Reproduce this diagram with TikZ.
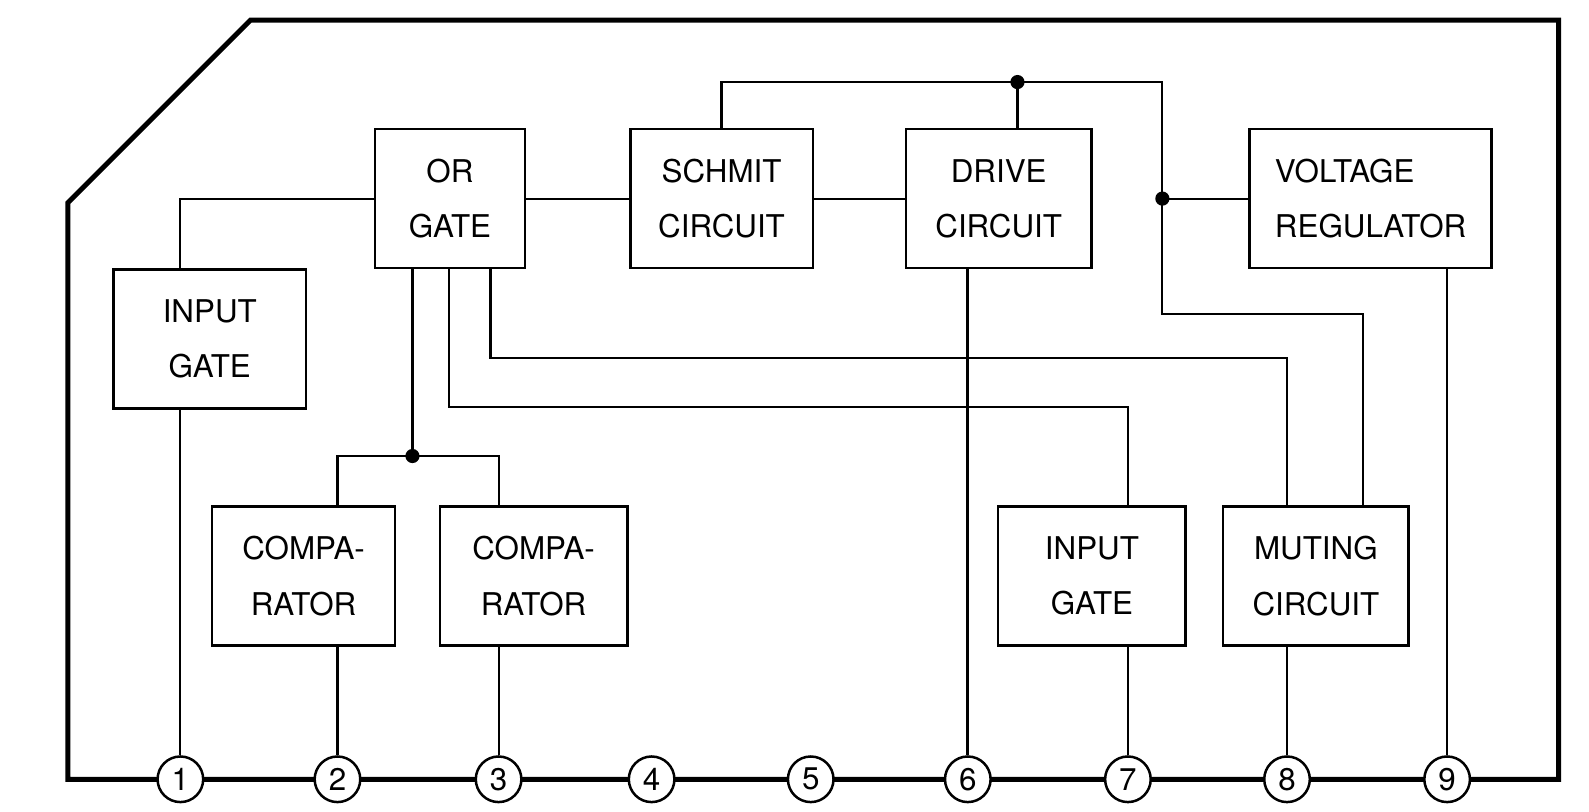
\documentclass[tikz,border=0pt]{standalone}
\usepackage{fontspec}
\setmainfont{TeX Gyre Heros}
\usetikzlibrary{positioning,calc}

\begin{document}
\begin{tikzpicture}[
    block/.style={draw, line width=0.7pt, minimum height=1.37cm, align=center, font=\fontsize{8.8}{15.5}\selectfont},
    pincirc/.style={draw, circle, fill=white, line width=0.7pt, minimum size=0.45cm, inner sep=0pt, font=\fontsize{8.8}{10}\selectfont},
    junction/.style={circle, fill=black, inner sep=0pt, minimum size=0.14cm},
    wire/.style={line width=0.6pt}
]
    \useasboundingbox (0,0) rectangle (15.68,8.01);

    % Package outline
    \draw[line width=1.4pt] (0.67,6.01) -- (2.47,7.81) -- (15.38,7.81) -- (15.38,0.32) -- (0.67,0.32) -- cycle;

    % Pins
    \foreach \n/\x in {1/1.78,2/3.33,3/4.92,4/6.43,5/8.00,6/9.55,7/11.13,8/12.70,9/14.28}
        \node[pincirc] (pin\n) at (\x,0.32) {\n};

    % Upper row
    \node[block, minimum width=1.48cm] (orgate) at (4.44,6.05) {OR\\GATE};
    \node[block, minimum width=1.80cm] (schmit) at (7.12,6.05) {SCHMIT\\CIRCUIT};
    \node[block, minimum width=1.83cm] (drive) at (9.855,6.05) {DRIVE\\CIRCUIT};
    \node[block, minimum width=2.39cm, align=left] (volreg) at (13.525,6.05) {VOLTAGE\\REGULATOR};
    \node[block, minimum width=1.90cm] (ingateA) at (2.07,4.665) {INPUT\\GATE};

    % Lower row
    \node[block, minimum width=1.81cm] (compA) at (2.995,2.325) {COMPA-\\RATOR};
    \node[block, minimum width=1.85cm] (compB) at (5.265,2.325) {COMPA-\\RATOR};
    \node[block, minimum width=1.85cm] (ingateB) at (10.775,2.325) {INPUT\\GATE};
    \node[block, minimum width=1.83cm] (muting) at (12.985,2.325) {MUTING\\CIRCUIT};

    % Junctions and corners
    \node[junction] (tj) at (10.04,7.20) {};
    \node[junction] (rj) at (11.47,6.05) {};
    \node[junction] (cj) at (4.07,3.51) {};
    \coordinate (rc) at (11.47,4.91);
    \coordinate (mc) at (13.45,4.91);
    \coordinate (ob) at (4.43,3.99);
    \coordinate (oc) at (4.84,4.48);

    % Signal path
    \draw[wire] (ingateA.north -| pin1) |- (orgate.west);
    \draw[wire] (orgate.east) -- (schmit.west);
    \draw[wire] (schmit.east) -- (drive.west);
    \draw[wire] (schmit.north) |- (tj.center) -| (rc) -- (mc) -- (mc |- muting.north);
    \draw[line width=0.9pt] (tj.center) -- (tj.center |- drive.north);
    \draw[wire] (rj.center) -- (volreg.west);

    % OR gate inputs
    \draw[line width=1.1pt] (orgate.south -| cj) -- (cj.center);
    \draw[wire] (compA.north -| pin2) |- (cj.center) -| (compB.north -| pin3);
    \draw[wire] (orgate.south -| ob) -- (ob) -| (ingateB.north -| pin7);
    \draw[wire] (orgate.south -| oc) -- (oc) -| (muting.north -| pin8);

    % Leads to pins
    \draw[wire] (ingateA.south -| pin1) -- (pin1);
    \draw[wire] (compA.south -| pin2) -- (pin2);
    \draw[wire] (compB.south -| pin3) -- (pin3);
    \draw[line width=0.8pt] (drive.south -| pin6) -- (pin6);
    \draw[wire] (ingateB.south -| pin7) -- (pin7);
    \draw[wire] (muting.south -| pin8) -- (pin8);
    \draw[wire] (volreg.south -| pin9) -- (pin9);
\end{tikzpicture}
\end{document}
